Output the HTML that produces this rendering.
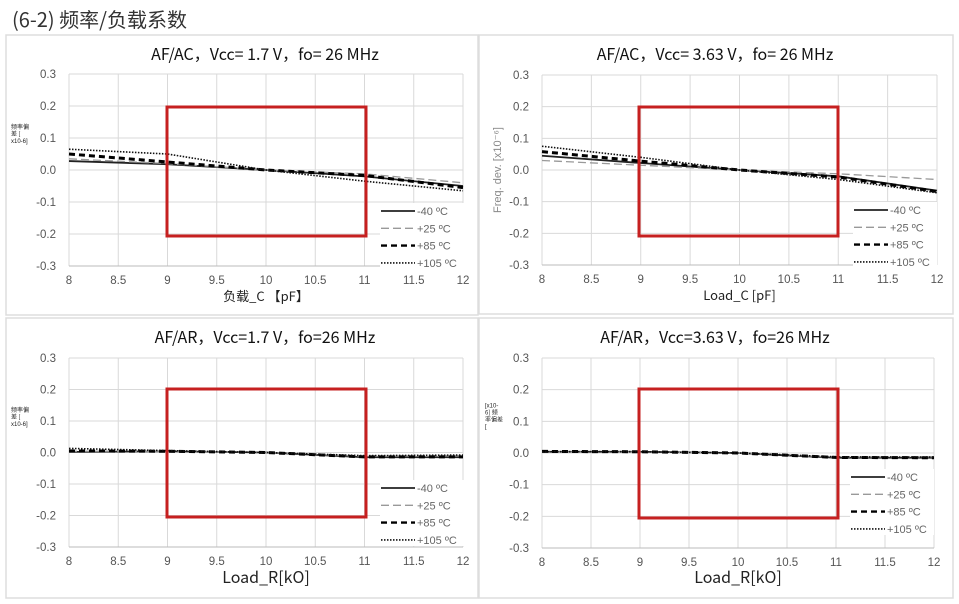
<!DOCTYPE html>
<html><head><meta charset="utf-8"><style>
html,body{margin:0;padding:0;background:#fff;width:959px;height:604px;overflow:hidden}
svg{display:block}
text{font-family:"Liberation Sans","Noto Sans CJK SC",sans-serif}
text.cj{font-family:"Noto Sans CJK SC",sans-serif}
</style></head><body>
<svg id="s" width="959" height="604" xmlns="http://www.w3.org/2000/svg">
<text class="cj" x="12" y="27" font-size="20" fill="#333">(6-2)  频率/负载系数</text>
</svg>
<script>
const s=document.getElementById('s');let h='';
const charts=[
 {px:[6,35,472,280],x0:69,x1:463,y0:74,y1:266,title:'AF/AC，Vcc= 1.7 V，fo= 26 MHz',tx:265,ty:60,xl:'负载_C 【pF】',xly:301,xls:13,yl:'cn',lg:[380,203],
  s:[[0.028,0.018,0,-0.02,-0.05],[0.035,0.02,0,-0.012,-0.04],[0.05,0.025,0,-0.017,-0.055],[0.065,0.05,0,-0.035,-0.065]],red:[167,107,366,236]},
 {px:[479,35,474,279],x0:542,x1:937,y0:75,y1:265,title:'AF/AC，Vcc= 3.63 V，fo= 26 MHz',tx:715,ty:60,xl:'Load_C [pF]',xly:300,xls:13,yl:'en',lg:[853,202],
  s:[[0.045,0.022,0,-0.02,-0.065],[0.03,0.015,0,-0.012,-0.03],[0.058,0.028,0,-0.022,-0.068],[0.075,0.04,0,-0.03,-0.072]],red:[639,107,838,236]},
 {px:[6,318,472,280],x0:69,x1:463,y0:358,y1:547,title:'AF/AR，Vcc=1.7 V，fo=26 MHz',tx:265,ty:343,xl:'Load_R[kO]',xly:583,xls:16,yl:'cn',lg:[380,480],
  s:[[0.002,0.004,0,-0.015,-0.015],[0.004,0.004,0,-0.012,-0.01],[0.005,0.004,0,-0.014,-0.014],[0.013,0.006,0,-0.01,-0.008]],red:[167,389,366,517]},
 {px:[479,318,474,280],x0:542,x1:934,y0:358,y1:548,title:'AF/AR，Vcc=3.63 V，fo=26 MHz',tx:715,ty:343,xl:'Load_R[kO]',xly:583,xls:16,yl:'cn2',lg:[850,469],
  s:[[0.004,0.004,0,-0.015,-0.015],[0.003,0.003,0,-0.013,-0.012],[0.005,0.004,0,-0.014,-0.015],[0.004,0.004,0,-0.012,-0.013]],red:[639,389,838,518]}
];
const sty=[['#222',1.8,''],['#999',1.3,'8 4'],['#000',3,'6 4'],['#111',1.6,'1.5 1.5']];
const names=['-40 ºC','+25 ºC','+85 ºC','+105 ºC'];
for(const c of charts){
 const [bx,by,bw,bh]=c.px;
 h+=`<rect x="${bx}" y="${by}" width="${bw}" height="${bh}" fill="#fff" stroke="#ddd" stroke-width="1.5"/>`;
 h+=`<text class="cj" x="${c.tx}" y="${c.ty}" font-size="16" text-anchor="middle" fill="#111">${c.title}</text>`;
 const X=v=>c.x0+(v-8)/4*(c.x1-c.x0), Y=v=>c.y0+(0.3-v)/0.6*(c.y1-c.y0);
 for(let i=0;i<=8;i++){const x=X(8+i*0.5);h+=`<line x1="${x}" y1="${c.y0}" x2="${x}" y2="${c.y1}" stroke="#d9d9d9"/>`;
  h+=`<text x="${x}" y="${c.y1+18}" font-size="11.5" text-anchor="middle" fill="#555">${8+i*0.5}</text>`;}
 for(let i=0;i<=6;i++){const v=0.3-i*0.1,y=Y(v);h+=`<line x1="${c.x0}" y1="${y}" x2="${c.x1}" y2="${y}" stroke="#d9d9d9"/>`;
  let t=Math.abs(v)<1e-9?'0.0':v.toFixed(1);
  h+=`<text x="${c.x0-13}" y="${y+4}" font-size="11.5" text-anchor="end" fill="#555">${t}</text>`;}
 h+=`<line x1="${c.x0}" y1="${c.y1}" x2="${c.x1}" y2="${c.y1}" stroke="#bbb"/>`;
 c.s.forEach((d,k)=>{const p=d.map((v,i)=>`${X(8+i)},${Y(v)}`).join(' ');
  h+=`<polyline points="${p}" fill="none" stroke="${sty[k][0]}" stroke-width="${sty[k][1]}" stroke-dasharray="${sty[k][2]}"/>`;});
 const r=c.red;h+=`<rect x="${r[0]}" y="${r[1]}" width="${r[2]-r[0]}" height="${r[3]-r[1]}" fill="none" stroke="#c62020" stroke-width="3"/>`;
 const [lx,ly]=c.lg;h+=`<rect x="${lx}" y="${ly}" width="84" height="66" fill="#fff"/>`;
 names.forEach((n,k)=>{const y=ly+8+k*17.3;
  h+=`<line x1="${lx+1}" y1="${y}" x2="${lx+35}" y2="${y}" stroke="${sty[k][0]}" stroke-width="${Math.min(sty[k][1],2.4)}" stroke-dasharray="${sty[k][2]}"/>`;
  h+=`<text x="${lx+37}" y="${y+4}" font-size="11" fill="#666">${n}</text>`;});
 h+=`<text class="cj" x="${(c.x0+c.x1)/2}" y="${c.xly}" font-size="${c.xls}" text-anchor="middle" fill="#222">${c.xl}</text>`;
 if(c.yl=='en'){h+=`<text transform="translate(${bx+22},${(c.y0+c.y1)/2}) rotate(-90)" font-size="11" text-anchor="middle" fill="#888">Freq. dev. [x10⁻⁶]</text>`;}
 else if(c.yl=='cn'){const y=Y(0.1);h+=`<text class="cj" x="${bx+5}" y="${y-9}" font-size="6" fill="#222">频率偏</text><text class="cj" x="${bx+5}" y="${y-2}" font-size="6" fill="#222">差 [</text><text x="${bx+5}" y="${y+5}" font-size="6" fill="#222">x10-6]</text>`;}
 else {const y=Y(0.1);h+=`<text x="${bx+6}" y="${y-14}" font-size="6" fill="#222">[x10-</text><text class="cj" x="${bx+6}" y="${y-7}" font-size="6" fill="#222">6] 频</text><text class="cj" x="${bx+6}" y="${y}" font-size="6" fill="#222">率偏差</text><text x="${bx+6}" y="${y+7}" font-size="6" fill="#222">[</text>`;}
}
s.insertAdjacentHTML('beforeend',h);
</script>
</body></html>
